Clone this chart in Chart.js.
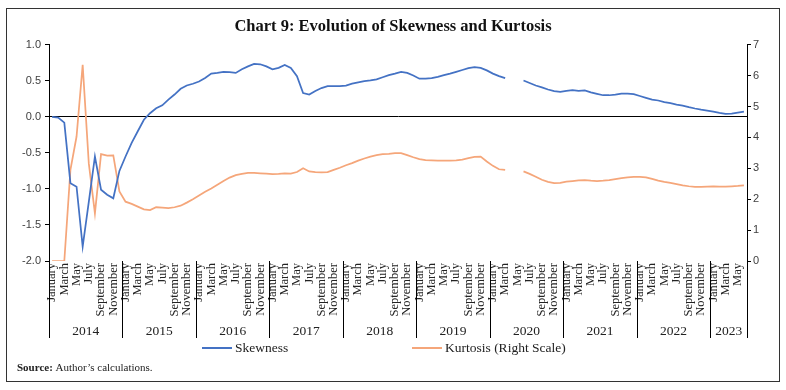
<!DOCTYPE html>
<html>
<head>
<meta charset="utf-8">
<script src="https://cdn.jsdelivr.net/npm/chart.js@4"></script>
<style>
  html, body { margin: 0; padding: 0; background: #fff; }
  canvas { display: block; }
</style>
</head>
<body>
<canvas id="chart" width="786" height="390"></canvas>
<script>
// ----- Data -----
const years = [2014, 2015, 2016, 2017, 2018, 2019, 2020, 2021, 2022, 2023];
const monthsPerYear = [12, 12, 12, 12, 12, 12, 12, 12, 12, 6];
const monthNames = ["January", "February", "March", "April", "May", "June",
  "July", "August", "September", "October", "November", "December"];

const skewness = [
  0.00, -0.01, -0.08, -0.92, -0.97, -1.80, -1.18, -0.55, -1.01, -1.08, -1.13, -0.75,
  -0.55, -0.36, -0.20, -0.04, 0.05, 0.12, 0.16, 0.24, 0.31, 0.39, 0.435, 0.46,
  0.49, 0.54, 0.60, 0.61, 0.625, 0.62, 0.61, 0.66, 0.70, 0.735, 0.73, 0.70,
  0.66, 0.68, 0.72, 0.68, 0.565, 0.33, 0.31, 0.36, 0.40, 0.425, 0.425, 0.425,
  0.435, 0.46, 0.48, 0.495, 0.505, 0.52, 0.55, 0.58, 0.60, 0.625, 0.61, 0.575,
  0.53, 0.53, 0.537, 0.556, 0.58, 0.60, 0.625, 0.65, 0.676, 0.69, 0.68, 0.645,
  0.60, 0.565, 0.537, null, null, 0.505, 0.47, 0.435, 0.41, 0.38, 0.356, 0.347,
  0.36, 0.37, 0.36, 0.366, 0.34, 0.32, 0.30, 0.30, 0.31, 0.324, 0.324, 0.315,
  0.29, 0.264, 0.24, 0.227, 0.204, 0.19, 0.17, 0.157, 0.134, 0.116, 0.10, 0.088,
  0.074, 0.056, 0.042, 0.046, 0.06, 0.074
];

const kurtosis = [
  0, 0, 0, 2.95, 4.03, 6.35, 3.16, 1.54, 3.46, 3.41, 3.42, 2.25,
  1.92, 1.85, 1.76, 1.67, 1.65, 1.74, 1.73, 1.71, 1.74, 1.79, 1.89, 2.00,
  2.12, 2.24, 2.35, 2.47, 2.59, 2.70, 2.78, 2.82, 2.85, 2.85, 2.84, 2.83,
  2.81, 2.82, 2.84, 2.83, 2.88, 3.00, 2.90, 2.88, 2.87, 2.88, 2.95, 3.02,
  3.10, 3.17, 3.25, 3.32, 3.38, 3.43, 3.46, 3.47, 3.49, 3.49, 3.43, 3.36,
  3.30, 3.27, 3.26, 3.25, 3.25, 3.25, 3.26, 3.28, 3.33, 3.37, 3.38, 3.22,
  3.08, 2.97, 2.95, null, null, 2.90, 2.82, 2.73, 2.63, 2.56, 2.52, 2.53,
  2.57, 2.59, 2.61, 2.62, 2.60, 2.59, 2.60, 2.62, 2.65, 2.68, 2.71, 2.72,
  2.72, 2.71, 2.66, 2.60, 2.56, 2.53, 2.49, 2.45, 2.42, 2.40, 2.40, 2.41,
  2.42, 2.41, 2.41, 2.42, 2.43, 2.45
];

// one category per month, labelled with the month name
const months = [];
years.forEach((yr, k) => {
  for (let m = 0; m < monthsPerYear[k]; m++) months.push(monthNames[m]);
});

const serif = "'Liberation Serif', 'DejaVu Serif', serif";
const sans = "'Liberation Sans', 'DejaVu Sans', sans-serif";

// ----- Year row, legend, source note and frame -----
const decor = {
  id: 'decor',
  afterDraw(chart) {
    const { ctx, chartArea, scales: { x } } = chart;
    const half = (x.getPixelForValue(1) - x.getPixelForValue(0)) / 2;
    ctx.save();

    // year separators and labels
    ctx.strokeStyle = '#000';
    ctx.lineWidth = 1;
    ctx.fillStyle = '#222';
    ctx.font = `13.5px ${serif}`;
    ctx.textAlign = 'center';
    ctx.textBaseline = 'middle';
    let start = 0;
    years.forEach((yr, k) => {
      const n = monthsPerYear[k];
      const x0 = x.getPixelForValue(start) - half;
      const x1 = x.getPixelForValue(start + n - 1) + half;
      const lines = k === years.length - 1 ? [x0, x1] : [x0];
      lines.forEach(px => {
        ctx.beginPath();
        ctx.moveTo(Math.round(px) + 0.5, chartArea.bottom);
        ctx.lineTo(Math.round(px) + 0.5, 338);
        ctx.stroke();
      });
      ctx.fillText(String(yr), (x0 + x1) / 2, 331);
      start += n;
    });

    // legend
    const legendX = [202, 412];
    ctx.textAlign = 'left';
    chart.data.datasets.forEach((ds, i) => {
      ctx.strokeStyle = ds.borderColor;
      ctx.lineWidth = 2;
      ctx.beginPath();
      ctx.moveTo(legendX[i], 348);
      ctx.lineTo(legendX[i] + 30, 348);
      ctx.stroke();
      ctx.fillStyle = '#222';
      ctx.fillText(ds.label, legendX[i] + 33, 348);
    });

    // source note
    ctx.font = `bold 11px ${serif}`;
    ctx.fillText('Source:', 17, 368);
    const w = ctx.measureText('Source:').width;
    ctx.font = `11px ${serif}`;
    ctx.fillText(' Author\u2019s calculations.', 17 + w, 368);

    // frame
    ctx.strokeStyle = '#333';
    ctx.lineWidth = 1;
    ctx.strokeRect(6.5, 8.5, 773, 373);
    ctx.restore();
  }
};

new Chart(document.getElementById('chart'), {
  type: 'line',
  data: {
    labels: months,
    datasets: [
      {
        label: 'Skewness',
        data: skewness,
        yAxisID: 'y',
        borderColor: '#4472C4',
        backgroundColor: '#4472C4',
        borderWidth: 1.75,
        pointRadius: 0,
        tension: 0,
        spanGaps: false
      },
      {
        label: 'Kurtosis (Right Scale)',
        data: kurtosis,
        yAxisID: 'y1',
        borderColor: '#F5A67A',
        backgroundColor: '#F5A67A',
        borderWidth: 1.75,
        pointRadius: 0,
        tension: 0,
        spanGaps: false
      }
    ]
  },
  options: {
    responsive: false,
    animation: false,
    layout: { padding: 0 },
    plugins: {
      legend: { display: false },
      tooltip: { enabled: false },
      title: {
        display: true,
        text: 'Chart 9: Evolution of Skewness and Kurtosis',
        color: '#111',
        font: { family: serif, size: 16.5, weight: 'bold' },
        padding: { top: 17, bottom: 8 }
      }
    },
    scales: {
      x: {
        offset: true,
        grid: { display: false, drawTicks: false },
        border: { display: false },
        ticks: {
          autoSkip: false,
          minRotation: 90,
          maxRotation: 90,
          padding: 2,
          color: '#222',
          font: { family: serif, size: 12.5 },
          callback: (v, i) => (i % 2 === 0 ? months[i] : '')
        },
        afterFit: s => { s.height = 129; }
      },
      y: {
        position: 'left',
        min: -2,
        max: 1,
        ticks: {
          stepSize: 0.5,
          padding: 4,
          color: '#404040',
          font: { family: sans, size: 11 },
          callback: v => v.toFixed(1)
        },
        grid: {
          color: c => (c.tick && c.tick.value === 0 ? '#000' : 'rgba(0,0,0,0)'),
          tickColor: '#000',
          tickLength: 4,
          lineWidth: 1
        },
        border: { color: '#000' },
        afterFit: s => { s.width = 49; }
      },
      y1: {
        position: 'right',
        min: 0,
        max: 7,
        ticks: {
          stepSize: 1,
          padding: 2,
          color: '#404040',
          font: { family: sans, size: 11 }
        },
        grid: { drawOnChartArea: false, tickColor: '#000', tickLength: 4 },
        border: { color: '#000' },
        afterFit: s => { s.width = 39; }
      }
    }
  },
  plugins: [decor]
});
</script>
</body>
</html>
